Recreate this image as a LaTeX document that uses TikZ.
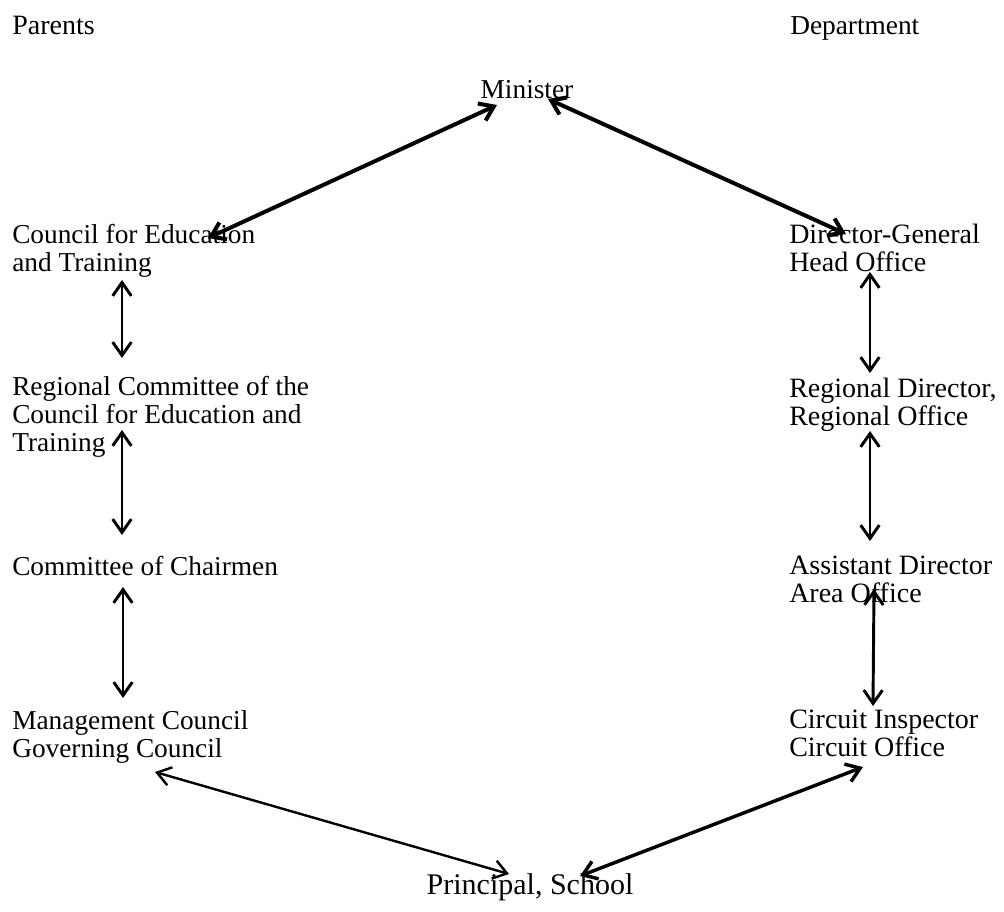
\documentclass[tikz,border=0pt]{standalone}
\usepackage{fontspec}
\setmainfont{Liberation Serif}
\usetikzlibrary{arrows.meta}
\begin{document}
\begin{tikzpicture}[x=0.75pt,y=-0.75pt,
  lbl/.style={inner sep=0pt,align=left,font=\fontsize{#1}{21}\selectfont},
  lbl/.default=20.5,
  arr/.style={line width=#1,arrows={Straight Barb[length=10pt,width=14pt,line width=#1]-Straight Barb[length=10pt,width=14pt,line width=#1]}},
  arr/.default=2.2pt]
\useasboundingbox (0,0) rectangle (1004,912);
% headers
\node[lbl=21,anchor=north west] (par) at (12,16) {Parents};
\node[lbl=20.5,anchor=north west] (dep) at (790,16) {Department};
\node[lbl=20.5,anchor=north] (min) at (527,80) {Minister};
\node[lbl=22.5,anchor=north] (prin) at (530,873) {Principal, School};
% left column
\node[lbl,anchor=north west] (cet) at (12,224) {Council for Education\\and Training};
\node[lbl,anchor=north west] (rc) at (12,376) {Regional Committee of the\\Council for Education and\\Training};
\node[lbl,anchor=north west] (cc) at (12,556) {Committee of Chairmen};
\node[lbl,anchor=north west] (mc) at (12,710) {Management Council\\Governing Council};
% right column
\node[lbl=21,anchor=north west] (dg) at (789,224) {Director-General\\Head Office};
\node[lbl=21,anchor=north west] (rd) at (789,378) {Regional Director,\\Regional Office};
\node[lbl=21,anchor=north west] (ad) at (789,556) {Assistant Director\\Area Office};
\node[lbl=21,anchor=north west] (ci) at (789,710) {Circuit Inspector\\Circuit Office};
% connector ends
\coordinate (m1) at (497,105); \coordinate (c1) at (208,238);
\coordinate (m2) at (548,99);  \coordinate (d1) at (846,234);
\coordinate (c2) at (122,280); \coordinate (r1) at (122,358);
\coordinate (r2) at (122,430); \coordinate (h1) at (122,535);
\coordinate (h2) at (123,587); \coordinate (g1) at (123,698);
\coordinate (d2) at (870,272); \coordinate (e1) at (870,373);
\coordinate (e2) at (870,431); \coordinate (a1) at (870,541);
\coordinate (a2) at (874,589); \coordinate (i1) at (873,706);
\coordinate (g2) at (155,772); \coordinate (p1) at (509,874);
\coordinate (i2) at (863,767); \coordinate (p2) at (580,876);
\draw[arr=3pt] (m1) -- (c1);
\draw[arr=3pt] (m2) -- (d1);
\draw[arr] (c2) -- (r1);
\draw[arr] (r2) -- (h1);
\draw[arr] (h2) -- (g1);
\draw[arr] (d2) -- (e1);
\draw[arr] (e2) -- (a1);
\draw[arr] (a2) -- (i1);
\draw[arr=1.8pt] (g2) -- (p1);
\draw[arr=2.6pt] (i2) -- (p2);
\end{tikzpicture}
\end{document}
